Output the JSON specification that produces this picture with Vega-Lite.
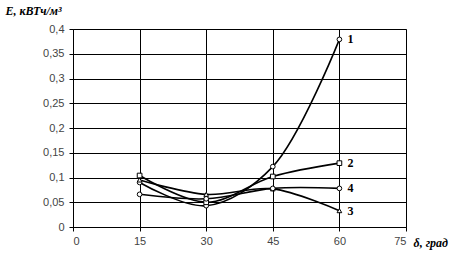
{
  "$schema": "https://vega.github.io/schema/vega-lite/v6.json",
  "width": 333,
  "height": 198,
  "autosize": "none",
  "padding": {"left": 73, "top": 29, "right": 56, "bottom": 26},
  "background": "white",
  "config": {
    "view": {"stroke": "#888", "strokeWidth": 1},
    "axis": {"labelFont": "Liberation Sans", "labelFontSize": 11, "labelColor": "#444", "domainColor": "#000", "tickColor": "#000", "gridColor": "#000", "gridOpacity": 1, "gridWidth": 1}
  },
  "data": {
    "values": [
      {"s": "1", "x": 15, "y": 0.09},
      {"s": "1", "x": 30, "y": 0.043},
      {"s": "1", "x": 45, "y": 0.122},
      {"s": "1", "x": 60, "y": 0.379},
      {"s": "2", "x": 15, "y": 0.104},
      {"s": "2", "x": 30, "y": 0.05},
      {"s": "2", "x": 45, "y": 0.102},
      {"s": "2", "x": 60, "y": 0.129},
      {"s": "3", "x": 15, "y": 0.095},
      {"s": "3", "x": 30, "y": 0.066},
      {"s": "3", "x": 45, "y": 0.077},
      {"s": "3", "x": 60, "y": 0.033},
      {"s": "4", "x": 15, "y": 0.066},
      {"s": "4", "x": 30, "y": 0.057},
      {"s": "4", "x": 45, "y": 0.078},
      {"s": "4", "x": 60, "y": 0.078}
    ]
  },
  "encoding": {
    "x": {
      "field": "x", "type": "quantitative",
      "scale": {"domain": [0, 75], "nice": false},
      "axis": {"values": [0, 15, 30, 45, 60, 75], "tickSize": 4, "labelPadding": 4, "grid": true, "gridColor": "#000",
        "title": "δ, град", "titleFont": "Liberation Serif", "titleFontStyle": "italic", "titleFontWeight": "bold", "titleFontSize": 12,
        "titleAnchor": "start", "titleAlign": "left", "titleBaseline": "middle", "titleX": 340, "titleY": 15}
    },
    "y": {
      "field": "y", "type": "quantitative",
      "scale": {"domain": [0, 0.4], "nice": false},
      "axis": {"values": [0, 0.05, 0.1, 0.15, 0.2, 0.25, 0.3, 0.35, 0.4], "labelExpr": "replace(format(datum.value, '~g'), '.', ',')", "tickSize": 4, "labelPadding": 5, "grid": true, "gridColor": "#000",
        "title": "E, кВТч/м³", "titleFont": "Liberation Serif", "titleFontStyle": "italic", "titleFontWeight": "bold", "titleFontSize": 12,
        "titleAngle": 0, "titleAlign": "left", "titleBaseline": "middle", "titleX": -68, "titleY": -19}
    }
  },
  "layer": [
    {
      "mark": {"type": "line", "interpolate": "catmull-rom", "color": "#000", "strokeWidth": 1.6},
      "encoding": {"detail": {"field": "s"}}
    },
    {
      "mark": {"type": "point", "filled": true, "fill": "white", "stroke": "#000", "strokeWidth": 1, "size": 22, "opacity": 1},
      "encoding": {
        "shape": {"field": "s", "type": "nominal", "scale": {"domain": ["1", "2", "3", "4"], "range": ["circle", "square", "triangle-up", "circle"]}, "legend": null}
      }
    },
    {
      "transform": [{"filter": "datum.x == 60"}],
      "mark": {"type": "text", "align": "left", "baseline": "middle", "dx": 8, "font": "Liberation Serif", "fontWeight": "bold", "fontSize": 12, "color": "#000"},
      "encoding": {"text": {"field": "s"}}
    }
  ]
}
